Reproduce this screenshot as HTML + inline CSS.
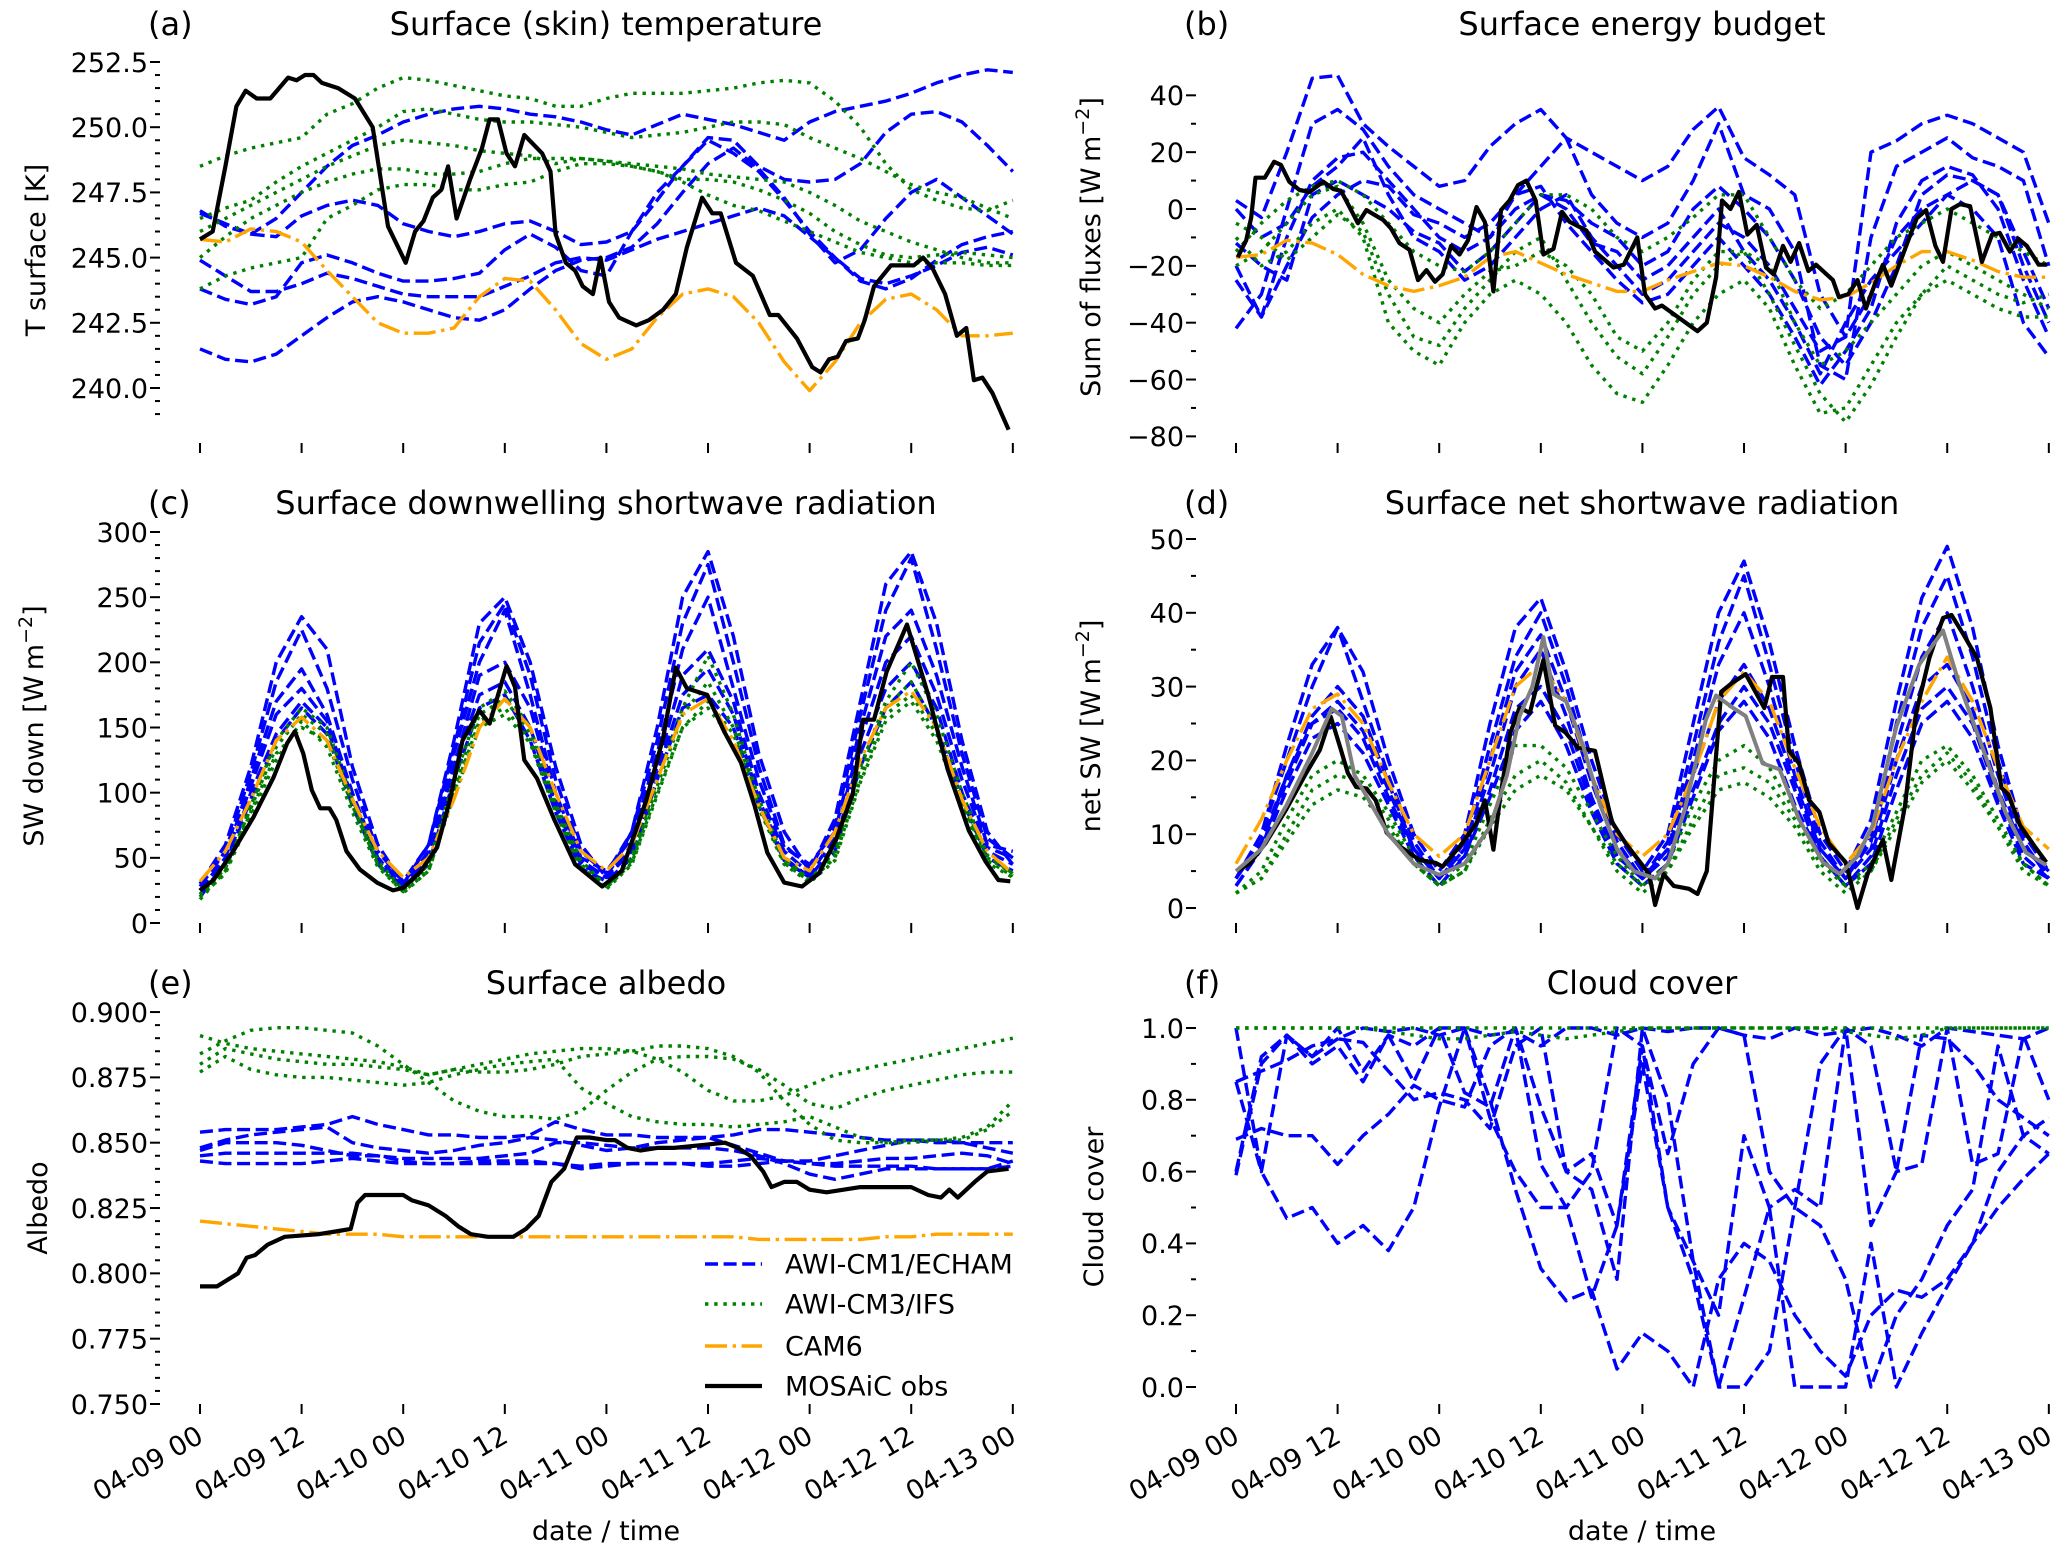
<!DOCTYPE html>
<html><head><meta charset="utf-8"><style>
html,body{margin:0;padding:0;background:#fff;}
svg{display:block;font-family:"DejaVu Sans","Liberation Sans",sans-serif;}
</style></head><body>
<svg id="fig" width="2067" height="1554" viewBox="0 0 2067 1554" xmlns="http://www.w3.org/2000/svg"></svg>
<script>
// ---------- shared time axis (hours since 04-09 00) ----------
const H3 = [0,3,6,9,12,15,18,21,24,27,30,33,36,39,42,45,48,51,54,57,60,63,66,69,72,75,78,81,84,87,90,93,96];
const xTickLabels = ["04-09 00","04-09 12","04-10 00","04-10 12","04-11 00","04-11 12","04-12 00","04-12 12","04-13 00"];
const xTickHours = [0,12,24,36,48,60,72,84,96];

// ---------- (a) surface temperature ----------
const aBlue = [
[246.8,246.2,245.9,246.5,247.5,248.5,249.3,249.7,250.2,250.5,250.7,250.8,250.7,250.5,250.4,250.2,249.9,249.7,250.1,250.5,250.3,250.1,249.8,249.5,250.2,250.6,250.8,251.0,251.3,251.7,252.0,252.2,252.1],
[246.7,246.3,245.9,245.8,246.6,247.0,247.2,247.0,246.3,246.0,245.8,246.0,246.3,246.4,246.0,245.5,245.6,246.0,247.2,248.5,249.6,249.5,248.5,248.0,247.9,248.0,248.6,249.8,250.5,250.6,250.2,249.3,248.3],
[244.9,244.3,243.7,243.7,244.0,244.4,244.2,243.9,243.6,243.5,243.5,243.5,243.9,244.3,244.8,245.0,244.9,245.3,245.7,246.0,246.3,246.6,246.9,246.6,245.8,245.0,244.2,244.0,244.3,244.7,245.2,245.4,245.1],
[243.8,243.4,243.2,243.5,244.8,245.1,244.8,244.4,244.1,244.1,244.2,244.4,245.3,245.9,245.4,244.5,244.3,246.0,247.5,248.5,249.5,249.0,248.3,247.2,246.0,245.0,244.1,243.8,244.2,244.9,245.5,245.8,246.0],
[241.5,241.1,241.0,241.3,242.0,242.7,243.3,243.5,243.3,243.0,242.7,242.6,243.0,243.8,244.5,244.9,245.0,245.4,246.3,247.5,248.6,249.2,248.4,247.3,245.9,244.8,245.3,246.5,247.5,248.0,247.3,246.6,245.9]
];
const aGreen = [
[248.5,248.9,249.2,249.4,249.6,250.5,250.9,251.5,251.9,251.8,251.6,251.4,251.2,251.1,250.8,250.8,251.1,251.3,251.3,251.3,251.4,251.5,251.7,251.8,251.7,251.0,250.0,248.6,247.6,247.2,246.9,246.8,247.2],
[246.5,246.9,247.2,247.9,248.5,249.0,249.5,250.0,250.6,250.7,250.5,250.3,250.2,250.2,250.1,250.0,249.8,249.6,249.7,249.8,250.0,250.2,250.2,250.1,249.6,249.2,248.8,248.3,247.8,247.5,247.3,246.9,246.5],
[246.0,246.5,247.0,247.5,248.0,248.5,248.9,249.3,249.5,249.4,249.3,249.1,249.0,248.9,248.6,248.8,248.7,248.6,248.5,248.4,248.2,248.1,248.0,247.9,247.5,247.0,246.4,246.0,245.6,245.3,245.0,244.8,244.8],
[245.0,245.8,246.5,247.0,247.5,247.9,248.2,248.4,248.4,248.2,248.2,248.3,248.6,248.8,248.8,248.8,248.7,248.5,248.3,248.0,248.0,247.9,247.6,247.2,246.7,246.0,245.5,245.1,245.0,245.1,245.2,245.1,245.0],
[243.8,244.3,244.6,244.8,245.0,246.5,247.0,247.6,247.8,247.8,247.6,247.6,247.8,247.9,248.3,248.6,248.6,248.5,248.3,247.9,247.4,247.0,246.8,246.4,246.0,245.6,245.2,245.0,244.8,244.8,244.8,244.7,244.7]
];
const aOrange = [245.7,245.6,246.1,246.0,245.6,244.5,243.5,242.5,242.1,242.1,242.3,243.5,244.2,244.1,243.0,241.7,241.1,241.5,242.7,243.6,243.8,243.5,242.5,241.0,239.9,241.0,242.5,243.4,243.6,243.0,242.0,242.0,242.1];
const aObsHours = [0,1.5,3,4.3,5.4,6.7,8.3,10.4,11.4,12.4,13.4,14.4,16.3,18.3,20.4,22.2,24.3,25.4,26.4,27.5,28.5,29.3,30.3,31.9,33.3,34.2,35.2,36.2,37.2,38.3,40.4,41.4,42,43.2,44.3,45.2,46.4,47.3,48.3,49.5,51.5,53,54.7,56.2,57.5,59.3,60.5,61.5,63.3,65.3,67.3,68.3,70.5,72.3,73.3,74.3,75.3,76.3,77.7,78.5,79.6,81.6,84.3,85.4,86.5,88,89.4,90.5,91.4,92.4,93.6,95.5];
const aObsVals = [245.7,246.0,248.5,250.8,251.4,251.1,251.1,251.9,251.8,252.0,252.0,251.7,251.5,251.1,250.0,246.2,244.8,246.0,246.4,247.3,247.6,248.5,246.5,248.0,249.2,250.3,250.3,249.0,248.5,249.7,249.0,248.3,245.9,244.8,244.5,243.9,243.6,245.0,243.3,242.7,242.4,242.6,243.0,243.6,245.4,247.3,246.7,246.7,244.8,244.3,242.8,242.8,241.9,240.8,240.6,241.1,241.2,241.8,241.9,242.6,243.9,244.7,244.7,245.0,244.6,243.6,242.0,242.3,240.3,240.4,239.8,238.4];
const aMajor = [240,242.5,245,247.5,250,252.5];
const aMajorLabels = ["240.0","242.5","245.0","247.5","250.0","252.5"];

// ---------- (b) surface energy budget ----------
const bBlue = [
[3,-3,20,46,47,30,22,15,8,10,22,30,35,25,20,15,10,15,28,36,18,12,5,-30,-45,20,24,30,33,30,25,20,-5],
[-42,-30,0,30,35,28,15,5,0,-5,-10,5,15,25,5,-5,-10,-5,10,30,5,0,-15,-55,-60,-10,15,20,25,18,15,10,-20],
[-20,-38,-10,10,18,20,10,0,-10,-15,-10,0,5,3,-5,-10,-20,-15,0,8,0,-10,-25,-45,-55,-40,-20,5,12,10,5,-20,-40],
[0,-10,-5,8,15,25,5,-10,-15,-25,-20,-10,0,5,-10,-20,-30,-25,-15,-5,-10,-20,-35,-50,-45,-30,-10,0,5,0,-10,-40,-52],
[-12,-20,-25,5,10,5,0,-8,-12,-22,-15,-5,5,0,-12,-15,-25,-20,-10,0,-15,-25,-40,-58,-40,-25,-15,-5,5,10,5,-15,-35],
[-25,-38,-20,-3,5,10,8,-2,-5,-10,-5,5,8,-5,-15,-25,-33,-30,-20,-10,-20,-30,-45,-62,-50,-35,-5,10,15,12,0,-25,-45]
];
const bGreen = [
[-15,-5,3,8,10,5,-5,-15,-20,-22,-15,-5,5,5,0,-10,-15,-10,-3,5,5,-10,-25,-35,-30,-20,-10,-5,0,-5,-10,-15,-20],
[-20,-15,-5,5,8,-5,-25,-35,-40,-30,-22,-20,-15,-20,-30,-45,-50,-40,-25,-15,-15,-20,-40,-55,-50,-40,-30,-20,-15,-20,-25,-30,-35],
[-10,-20,-15,-5,0,-10,-40,-50,-55,-40,-30,-25,-30,-40,-55,-65,-68,-55,-40,-30,-25,-35,-55,-72,-70,-55,-40,-30,-25,-30,-35,-38,-38],
[-5,-10,-18,-10,-2,-8,-30,-45,-48,-35,-25,-15,-10,-25,-40,-52,-58,-45,-30,-20,-15,-30,-48,-65,-75,-62,-45,-30,-20,-25,-30,-33,-30]
];
const bOrange = [-17,-16,-11,-12,-16,-23,-27,-29,-27,-24,-17,-15,-19,-23,-26,-29,-29,-25,-22,-19,-20,-24,-29,-32,-31,-26,-20,-15,-15,-18,-22,-24,-24];
const bObsHours = [0.2,1.2,1.8,2.3,3.4,4.5,5.3,6.3,7.5,8.7,10.3,11.5,12.4,13.4,14.4,15.4,17.4,18.3,19.3,20.5,21.5,22.5,23.5,24.4,25.4,26.4,27.4,28.4,29.4,30.4,31.3,32.3,33.3,34.3,35.4,36.3,37.5,38.5,39.4,41.4,42.4,44.6,45.8,47.4,48.3,49.5,50.3,54.5,55.6,56.7,57.4,58.4,59.4,60.4,61.5,62.6,63.5,64.6,65.5,66.5,67.6,68.5,70.5,71.2,72.3,73.4,74.4,75.5,76.4,77.4,79.4,80.4,81.5,82.6,83.5,84.5,85.5,86.7,88.1,89.3,90.2,91.4,92.4,93.4,94.8,95.8];
const bObsVals = [-17,-11,-3,11,11,16.6,15.5,9.6,6.7,6,9.6,7,6.4,0.7,-5,-0.4,-3.9,-6.8,-12,-14.4,-25,-21.5,-25.6,-23,-13,-16,-11,0.7,-4.6,-29,-0.4,3,8.4,10,3,-16,-14,-1,-4.5,-7.6,-15,-20.6,-19.6,-10,-30,-35,-34,-43,-40,-24,3,0,6,-9,-5.6,-20.6,-23,-13,-18.6,-12,-21.8,-19.6,-25,-31,-30,-25,-35,-26,-19.6,-27,-11,-3.3,-0.4,-13,-18.6,0,1.7,1,-18.6,-9,-8.4,-15,-10.5,-13,-19.6,-19.6];
const bMajor = [-80,-60,-40,-20,0,20,40];
const bMajorLabels = ["\u221280","\u221260","\u221240","\u221220","0","20","40"];

// ---------- (c) SW down ----------
const cBlue = [
[30,60,120,200,235,210,120,60,30,60,140,230,250,200,120,60,35,70,150,250,285,220,130,70,40,80,170,260,285,230,140,70,45],
[28,55,115,185,225,180,110,55,32,60,135,215,245,190,110,55,38,70,140,230,275,200,120,60,42,75,160,240,280,210,130,65,50],
[25,50,110,170,195,160,100,50,28,55,130,200,240,175,100,50,40,65,130,210,250,180,110,58,45,70,150,220,240,190,120,60,55],
[25,50,105,160,180,155,95,50,30,50,120,190,200,165,95,48,35,60,120,190,210,170,100,55,38,65,140,200,220,175,110,58,50],
[22,45,100,145,170,150,95,48,30,50,120,175,185,150,90,45,35,55,115,175,195,160,95,50,35,60,130,180,200,165,100,55,45],
[20,45,95,140,165,145,90,45,28,45,110,165,175,140,85,42,32,50,110,165,175,150,90,48,35,55,120,165,185,150,95,50,40]
];
const cGreen = [
[20,40,90,140,165,150,95,48,25,45,110,165,178,150,92,48,28,50,110,165,205,160,95,50,33,55,120,170,200,160,100,52,38],
[22,42,88,135,160,145,92,45,25,42,105,160,172,145,90,45,28,48,105,160,185,150,92,48,33,52,115,165,185,150,95,50,38],
[18,40,85,130,150,140,90,45,23,40,100,155,165,140,88,43,27,46,100,150,170,145,90,46,32,50,110,160,175,145,92,48,36],
[20,38,82,125,155,135,85,43,24,40,98,150,160,138,85,42,26,45,98,150,165,140,88,45,31,48,108,155,170,140,90,46,35]
];
const cOrange = [32,55,95,140,158,140,95,55,35,50,95,150,172,150,100,55,40,60,110,160,172,140,90,50,40,70,125,165,178,150,95,55,38];
const cObsHours = [0,1.6,4,6.3,8.7,10.3,11.2,12.2,13.2,14.2,15.3,16.1,17.3,18.9,20.9,22.8,24,26,28,29.5,31,33,34.2,36.2,37.2,38.3,39.8,41.8,44.3,47.5,49.8,52.7,54.7,56.2,57.5,59.9,61.9,63.9,65.5,67,69,71.1,73.1,75.1,77.1,78.3,79.6,81.1,83.5,86,88.3,90.8,92.8,94.3,95.7];
const cObsVals = [25,33,56,81,112,138,147,130,102,88,88,79,55,41,31,25,27,39,58,94,140,163,153,197,181,125,111,80,45,28,40,94,142,196,180,175,147,123,90,54,31,28,38,64,99,156,156,193,229,175,118,71,47,33,32];
const cMajor = [0,50,100,150,200,250,300];
const cMajorLabels = ["0","50","100","150","200","250","300"];

// ---------- (d) net SW ----------
const dBlue = [
[4,10,22,33,38,32,20,10,5,10,25,38,42,32,20,10,5,10,25,40,47,36,22,10,5,12,28,42,49,38,22,10,5],
[4,10,20,30,38,28,18,9,4,9,22,34,40,30,18,9,4,9,22,36,45,33,20,9,4,10,25,38,45,34,20,9,4],
[3,8,18,26,30,26,17,8,4,8,20,32,37,28,17,8,4,8,20,33,40,30,18,8,4,9,22,34,40,30,18,8,5],
[4,9,17,25,28,24,16,8,4,8,18,30,35,26,15,7,4,8,18,28,33,27,17,8,4,8,20,30,33,27,16,8,5],
[4,9,18,25,27,23,15,8,4,7,16,27,30,24,14,7,4,7,16,25,30,25,16,7,3,7,18,27,30,25,15,7,4],
[3,8,16,23,25,21,14,7,3,7,15,24,28,22,13,6,3,6,15,24,28,23,14,7,3,6,16,25,28,23,14,6,4]
];
const dGreen = [
[2,5,12,18,20,18,13,7,3,6,14,22,22,19,13,7,3,6,14,20,22,19,13,7,3,6,13,20,22,18,12,6,3],
[2,4,10,16,18,17,12,6,3,5,12,18,20,17,11,6,3,5,12,18,19,17,12,6,3,5,12,18,21,17,11,6,3],
[2,4,9,14,16,15,11,6,3,5,11,16,18,16,11,5,2,5,11,16,17,15,11,5,2,5,11,17,20,16,11,5,3]
];
const dOrange = [6,12,20,27,29,25,17,10,7,10,20,30,33,28,18,10,7,10,18,28,32,28,19,11,6,10,20,28,34,28,19,11,8];
const dObsHours = [0.2,1.6,3.5,5.9,8.3,9.9,11.2,12.3,13.2,14.2,15.4,16.5,17.8,19.4,21.7,23.6,24.4,26.4,28.4,29.4,30.4,31.2,32.4,33.5,34.7,36.3,37.7,38.9,40.4,42.4,44.4,46,48,48.8,49.5,50.5,51.7,53.5,54.5,55.6,57.3,58.6,60.2,62.4,63.3,64.6,65.3,66.5,67.7,68.9,70,72,73.4,74.6,76.4,77.4,79,80.3,81.9,83.5,84.5,85.9,87.5,89.1,90.4,91.2,92.6,94.3,95.7];
const dObsVals = [5.1,6,8.8,13.3,18.3,21.4,25.9,21.8,18.3,16.4,16.2,14.6,10.2,8.3,6.5,6.1,5.6,8.3,11.5,14.6,7.9,15,23.7,27.2,26.4,33.6,24.7,23.8,21.7,21.3,11.7,8.8,5.8,4.6,0.4,4.6,3,2.6,1.9,5,29.3,30.5,31.7,27.1,31.3,31.3,21.3,19.6,14.6,13,8.8,6.2,0,4.6,9.2,3.8,13.8,26.3,33.9,39.3,39.7,37.1,33.9,27.1,16.3,15.4,11.2,8.4,6.2];
const dGrayHours = [0,3,6,9,11.3,12.5,14,16,18,21,24,27,30,32,33.5,35,36.3,37.5,39,41,43,45,47,49.5,51,53,55.5,56.7,58.6,60.2,62.2,64.2,66.5,69.3,71.3,73.4,75.2,78,80.7,83.5,85.4,87.8,90.9,93.3,95.7];
const dGrayVals = [5,8,14,21,27,26,18,14,10,6,4.5,6,11,18,26,30,36.7,29,28,22,14,8,5,4,6,13.4,25.5,28.8,27.2,26,19.6,18.8,12,6.2,4.6,7,11.2,24.6,33,37.6,30.4,22.9,12.9,7.5,5.8];
const dMajor = [0,10,20,30,40,50];
const dMajorLabels = ["0","10","20","30","40","50"];

// ---------- (e) albedo ----------
const eBlue = [
[0.854,0.855,0.855,0.855,0.856,0.857,0.860,0.857,0.855,0.853,0.853,0.852,0.852,0.853,0.858,0.855,0.853,0.853,0.852,0.852,0.852,0.853,0.855,0.855,0.854,0.853,0.852,0.851,0.851,0.850,0.850,0.850,0.850],
[0.848,0.851,0.853,0.854,0.855,0.856,0.850,0.848,0.847,0.846,0.847,0.849,0.850,0.852,0.851,0.849,0.847,0.848,0.850,0.851,0.852,0.849,0.846,0.843,0.843,0.845,0.847,0.849,0.851,0.851,0.850,0.848,0.846],
[0.847,0.850,0.850,0.850,0.849,0.847,0.845,0.845,0.844,0.844,0.844,0.844,0.845,0.846,0.850,0.850,0.849,0.848,0.848,0.848,0.848,0.847,0.845,0.842,0.838,0.836,0.838,0.840,0.840,0.840,0.840,0.840,0.843],
[0.845,0.846,0.846,0.846,0.846,0.846,0.846,0.845,0.843,0.842,0.842,0.843,0.843,0.843,0.842,0.841,0.842,0.842,0.842,0.842,0.842,0.843,0.844,0.843,0.842,0.842,0.843,0.844,0.844,0.845,0.846,0.845,0.842],
[0.843,0.842,0.842,0.842,0.842,0.843,0.844,0.843,0.842,0.842,0.842,0.842,0.842,0.842,0.842,0.840,0.841,0.842,0.842,0.842,0.841,0.841,0.842,0.843,0.842,0.841,0.841,0.841,0.841,0.840,0.840,0.840,0.841]
];
const eGreen = [
[0.891,0.888,0.886,0.885,0.884,0.883,0.882,0.881,0.879,0.876,0.878,0.880,0.882,0.884,0.885,0.886,0.886,0.885,0.882,0.877,0.870,0.866,0.866,0.868,0.872,0.876,0.878,0.880,0.882,0.884,0.886,0.888,0.890],
[0.884,0.889,0.893,0.894,0.894,0.893,0.892,0.887,0.880,0.873,0.866,0.862,0.860,0.860,0.859,0.862,0.870,0.877,0.882,0.883,0.883,0.882,0.878,0.872,0.865,0.863,0.867,0.870,0.872,0.874,0.876,0.877,0.877],
[0.880,0.886,0.884,0.882,0.881,0.880,0.880,0.879,0.878,0.876,0.878,0.877,0.877,0.878,0.880,0.883,0.884,0.885,0.887,0.887,0.886,0.883,0.877,0.866,0.857,0.851,0.850,0.850,0.851,0.851,0.851,0.855,0.862],
[0.877,0.883,0.878,0.876,0.875,0.875,0.874,0.873,0.872,0.873,0.876,0.878,0.880,0.881,0.882,0.871,0.865,0.860,0.858,0.857,0.857,0.856,0.857,0.858,0.860,0.856,0.852,0.850,0.850,0.851,0.852,0.856,0.866]
];
const eOrange = [0.820,0.819,0.818,0.817,0.816,0.815,0.815,0.815,0.814,0.814,0.814,0.814,0.814,0.814,0.814,0.814,0.814,0.814,0.814,0.814,0.814,0.814,0.813,0.813,0.813,0.813,0.813,0.814,0.814,0.815,0.815,0.815,0.815];
const eObsHours = [0,2,3,4.5,5.5,6.5,8,10,14,16,17.8,18.6,19.5,24,25,27,29,30.5,32,34,37,38.5,40,41.5,43,44.5,46,48,49,50.5,52,54,56,59,62,63.5,65,66.5,67.5,69,70.5,72,74,76,78,81,84,86,87.5,88.5,89.5,91.5,93,95.5];
const eObsVals = [0.795,0.795,0.797,0.800,0.806,0.807,0.811,0.814,0.815,0.816,0.817,0.827,0.830,0.830,0.828,0.826,0.822,0.818,0.815,0.814,0.814,0.817,0.822,0.835,0.840,0.852,0.852,0.851,0.851,0.848,0.847,0.848,0.848,0.849,0.850,0.848,0.845,0.839,0.833,0.835,0.835,0.832,0.831,0.832,0.833,0.833,0.833,0.830,0.829,0.832,0.829,0.835,0.839,0.840];
const eMajor = [0.750,0.775,0.800,0.825,0.850,0.875,0.900];
const eMajorLabels = ["0.750","0.775","0.800","0.825","0.850","0.875","0.900"];
const legendLabels = ["AWI-CM1/ECHAM","AWI-CM3/IFS","CAM6","MOSAiC obs"];

// ---------- (f) cloud cover ----------
const fBlue = [
[0.60,0.92,0.98,0.90,0.95,0.85,0.98,0.85,1.00,1.00,0.75,0.60,0.50,0.50,0.60,1.00,0.95,0.65,0.90,1.00,0.98,0.60,0.50,0.45,0.30,0.00,0.20,0.30,0.45,0.55,0.95,0.70,0.65],
[0.85,0.88,0.91,0.95,0.97,0.96,0.88,0.80,0.82,0.80,0.72,0.95,1.00,0.60,0.55,0.30,1.00,0.80,0.35,0.00,0.00,0.10,0.50,0.90,1.00,0.95,0.60,0.98,0.97,0.90,0.80,0.75,0.70],
[0.69,0.72,0.70,0.70,0.62,0.70,0.76,0.84,0.80,0.78,0.95,1.00,0.62,0.50,0.25,0.45,0.95,0.50,0.35,0.20,0.70,0.50,0.55,0.50,1.00,0.45,0.60,0.62,1.00,0.62,0.65,0.98,0.80],
[1.00,0.60,0.47,0.50,0.40,0.45,0.38,0.50,0.78,1.00,0.80,0.55,0.33,0.24,0.27,0.05,0.15,0.10,0.00,0.30,0.40,0.35,0.20,0.10,0.03,0.20,0.27,0.25,0.30,0.40,0.50,0.58,0.65],
[0.59,0.90,0.98,0.92,0.97,1.00,0.99,1.00,0.98,1.00,0.98,0.99,0.95,1.00,1.00,0.98,1.00,0.99,1.00,1.00,0.98,0.97,1.00,0.98,0.99,1.00,0.98,0.95,1.00,0.99,0.98,0.97,1.00],
[0.85,0.60,0.98,0.92,1.00,0.88,0.98,0.95,1.00,0.82,0.78,1.00,0.78,0.60,0.65,0.45,0.90,0.50,0.30,0.00,0.25,0.50,0.00,0.00,0.00,0.40,0.00,0.15,0.28,0.40,0.60,0.70,0.75]
];
const fGreen = [
[1,1,1,1,1,1,1,1,1,1,1,1,1,1,1,1,1,1,1,1,1,1,1,1,1,1,1,1,1,1,1,1,1],
[1,1,1,1,1,1,0.99,0.98,0.97,0.97,0.98,0.99,0.98,0.97,0.98,0.99,1,1,1,1,1,1,1,1,0.99,0.98,0.97,0.98,1,1,1,1,1]
];
const fMajor = [0,0.2,0.4,0.6,0.8,1.0];
const fMajorLabels = ["0.0","0.2","0.4","0.6","0.8","1.0"];

// ================= rendering =================
const NS = "http://www.w3.org/2000/svg";
const svg = document.getElementById("fig");
function el(tag, attrs, parent){
  const e = document.createElementNS(NS, tag);
  for (const k in attrs) e.setAttribute(k, attrs[k]);
  (parent || svg).appendChild(e);
  return e;
}
const STYLE = {
  blue:  {stroke:"#0000ff", w:3.4, dash:"13,5.6"},
  green: {stroke:"#008000", w:3.4, dash:"3.4,5.8"},
  orange:{stroke:"#ffa500", w:3.4, dash:"22,5.6,3.4,5.6"},
  black: {stroke:"#000000", w:4.2, dash:""},
  gray:  {stroke:"#808080", w:4.0, dash:""}
};
function makePanel(p){
  const g = el("g", {});
  
  
  const xs = h => p.x0 + h * 8.467;
  const ys = v => p.yRef - (v - p.vRef) * p.k;
  // title
  const lab = el("text", {x:p.x0 - 52, y:p.titleY, "font-size":32, fill:"#000"}, g);
  lab.textContent = "(" + p.id + ")";
  
  
  const t = el("text", {x:p.x0 + 406, y:p.titleY, "font-size":32, "text-anchor":"middle", fill:"#000"}, g);
  t.textContent = p.title;
  
  
  // y ticks
  const tr = p.x0 - 40;
  for (let i = 0; i < p.major.length; i++) {
    const y = ys(p.major[i]);
    const tk = el("line", {x1:tr-10, x2:tr, y1:y, y2:y, stroke:"#000", "stroke-width":2}, g);
    
    
    const tl = el("text", {x:tr-12, y:y+9.8, "font-size":27, "text-anchor":"end", fill:"#000"}, g);
    tl.textContent = p.majorLabels[i];
    
    
  }
  for (let v = p.minorStart; v <= p.minorEnd + 1e-9; v += p.minorStep) {
    if (p.major.some(m => Math.abs(m - v) < p.minorStep / 10)) continue;
    const y = ys(v);
    const mk = el("line", {x1:tr-5, x2:tr, y1:y, y2:y, stroke:"#000", "stroke-width":2}, g);
    
    
  }
  // y label
  const yl = el("text", {x:0, y:0, "font-size":27, "text-anchor":"middle", fill:"#000",
     transform:"translate(" + p.ylabX + "," + p.ylabY + ") rotate(-90)"}, g);
  
  
  if (p.ylabUnit) {
    const a = el("tspan", {}, yl); a.textContent = p.ylabel + " [W\u2009m";
    const b = el("tspan", {dy:-11, "font-size":19}, yl); b.textContent = "\u22122";
    const c = el("tspan", {dy:11}, yl); c.textContent = "]";
  } else yl.textContent = p.ylabel;
  // x ticks
  for (let i = 0; i < xTickHours.length; i++) {
    const x = xs(xTickHours[i]);
    const xt = el("line", {x1:x, x2:x, y1:p.xTickY, y2:p.xTickY+10, stroke:"#000", "stroke-width":2}, g);
    
    
    if (p.xLabels) {
      const xl = el("text", {x:0, y:0, "font-size":27, "text-anchor":"end", fill:"#000",
        transform:"translate(" + (x+5) + "," + (p.xTickY+37) + ") rotate(-30)"}, g);
      xl.textContent = xTickLabels[i];
      
      
    }
  }
  if (p.xLabels) {
    const xt = el("text", {x:p.x0+406, y:1540, "font-size":27, "text-anchor":"middle", fill:"#000"}, g);
    xt.textContent = "date / time";
    
    
  }
  const lines = el("g", {fill:"none", "stroke-linejoin":"round"}, g);
  
  
  function series(hours, vals, st, name){
    let d = "";
    const n = Math.min(hours.length, vals.length);
    for (let i = 0; i < n; i++) d += (i ? "L" : "M") + xs(hours[i]).toFixed(1) + "," + ys(vals[i]).toFixed(1);
    const s = STYLE[st];
    const path = el("path", {d:d, stroke:s.stroke, "stroke-width":s.w}, lines);
    if (s.dash) path.setAttribute("stroke-dasharray", s.dash);
    
    
  }
  p.blue.forEach((v, i) => series(H3, v, "blue", "awi-cm1-line-" + (i+1)));
  p.green.forEach((v, i) => series(H3, v, "green", "awi-cm3-line-" + (i+1)));
  if (p.orange) series(H3, p.orange, "orange", "cam6-line");
  if (p.obsH) series(p.obsH, p.obsV, "black", "mosaic-obs-line");
  if (p.grayH) series(p.grayH, p.grayV, "gray", "gray-reference-line");
  return g;
}

makePanel({id:"a", title:"Surface (skin) temperature", x0:200, titleY:35, yRef:388, vRef:240, k:26.08,
  major:aMajor, majorLabels:aMajorLabels, minorStart:239, minorEnd:252.5, minorStep:0.5,
  ylabel:"T surface [K]", ylabX:45, ylabY:250, xTickY:443, xLabels:false,
  blue:aBlue, green:aGreen, orange:aOrange, obsH:aObsHours, obsV:aObsVals});
makePanel({id:"b", title:"Surface energy budget", x0:1236, titleY:35, yRef:209, vRef:0, k:2.842,
  major:bMajor, majorLabels:bMajorLabels, minorStart:-70, minorEnd:30, minorStep:10,
  ylabel:"Sum of fluxes", ylabUnit:true, ylabX:1100, ylabY:247, xTickY:443, xLabels:false,
  blue:bBlue, green:bGreen, orange:bOrange, obsH:bObsHours, obsV:bObsVals});
makePanel({id:"c", title:"Surface downwelling shortwave radiation", x0:200, titleY:514, yRef:923, vRef:0, k:1.3033,
  major:cMajor, majorLabels:cMajorLabels, minorStart:10, minorEnd:290, minorStep:10,
  ylabel:"SW down", ylabUnit:true, ylabX:43, ylabY:726, xTickY:923, xLabels:false,
  blue:cBlue, green:cGreen, orange:cOrange, obsH:cObsHours, obsV:cObsVals});
makePanel({id:"d", title:"Surface net shortwave radiation", x0:1236, titleY:514, yRef:908, vRef:0, k:7.38,
  major:dMajor, majorLabels:dMajorLabels, minorStart:5, minorEnd:45, minorStep:10,
  ylabel:"net SW", ylabUnit:true, ylabX:1100, ylabY:726, xTickY:923, xLabels:false,
  blue:dBlue, green:dGreen, orange:dOrange, obsH:dObsHours, obsV:dObsVals, grayH:dGrayHours, grayV:dGrayVals});
makePanel({id:"e", title:"Surface albedo", x0:200, titleY:994, yRef:1404, vRef:0.75, k:2613,
  major:eMajor, majorLabels:eMajorLabels, minorStart:0.755, minorEnd:0.895, minorStep:0.005,
  ylabel:"Albedo", ylabX:47, ylabY:1208, xTickY:1404, xLabels:true,
  blue:eBlue, green:eGreen, orange:eOrange, obsH:eObsHours, obsV:eObsVals});
makePanel({id:"f", title:"Cloud cover", x0:1236, titleY:994, yRef:1387, vRef:0, k:359,
  major:fMajor, majorLabels:fMajorLabels, minorStart:0.1, minorEnd:0.9, minorStep:0.2,
  ylabel:"Cloud cover", ylabX:1103, ylabY:1207, xTickY:1404, xLabels:true,
  blue:fBlue, green:fGreen});

// legend in panel (e)
const leg = el("g", {});


const legStyles = ["blue","green","orange","black"];
const legY = [1264,1304,1346,1386];
for (let i = 0; i < legendLabels.length; i++) {
  const s = STYLE[legStyles[i]];
  const ln = el("line", {x1:705, x2:762, y1:legY[i], y2:legY[i], stroke:s.stroke, "stroke-width":s.w}, leg);
  if (s.dash) ln.setAttribute("stroke-dasharray", s.dash);
  
  
  const tx = el("text", {x:785, y:legY[i]+9.5, "font-size":27, fill:"#000"}, leg);
  tx.textContent = legendLabels[i];
  
  
}
</script>
</body></html>
